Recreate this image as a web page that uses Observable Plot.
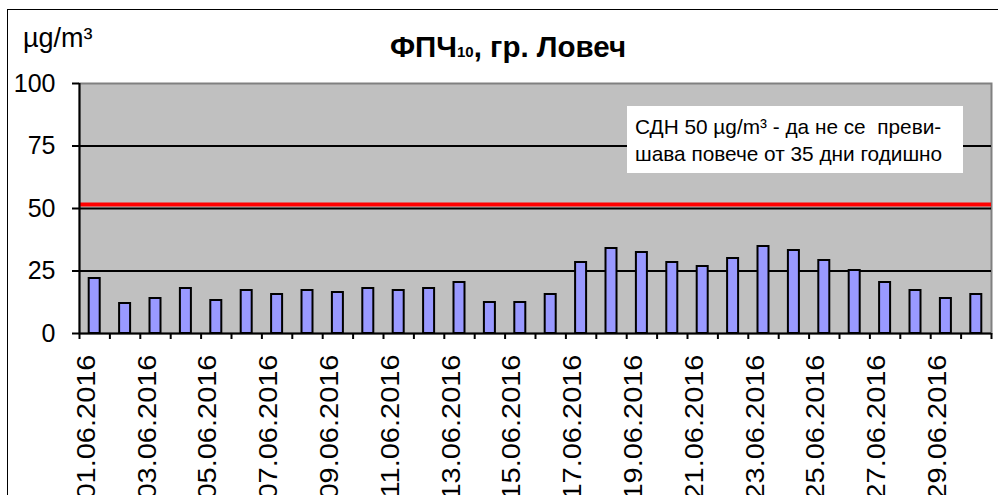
<!DOCTYPE html>
<html>
<head>
<meta charset="utf-8">
<script src="https://cdn.jsdelivr.net/npm/d3@7"></script>
<script src="https://cdn.jsdelivr.net/npm/@observablehq/plot@0.6"></script>
<style>
  html, body { margin: 0; padding: 0; background: #fff; overflow: hidden; }
  #wrap { position: relative; width: 998px; height: 495px; overflow: hidden; font-family: "Liberation Sans", Arial, sans-serif; }
  #frame { position: absolute; left: 7px; top: 9px; width: 1100px; height: 600px; border-left: 1px solid #000; border-top: 1px solid #000; }
  #unit { position: absolute; left: 23px; top: 23px; font-size: 27px; line-height: 30px; }
  #title { position: absolute; left: 0; width: 1016px; top: 30px; text-align: center; font-size: 29.5px; font-weight: bold; line-height: 34px; }
  #title sub { font-size: 15px; vertical-align: baseline; }
  #note { position: absolute; left: 627px; top: 106px; width: 336px; height: 67px; background: #fff; font-size: 20.8px; line-height: 27px; padding: 7px 0 0 8px; box-sizing: border-box; white-space: pre; }
  svg { position: absolute; left: 0; top: 0; }
</style>
</head>
<body>
<div id="wrap">
  <div id="frame"></div>
  <div id="chart"></div>
  <div id="unit">µg/m³</div>
  <div id="title">ФПЧ<sub>10</sub>, гр. Ловеч</div>
  <div id="note">СДН 50 µg/m³ - да не се  преви-
шава повече от 35 дни годишно</div>
</div>
<script>
// Dates (June 2016) and daily PM10 values, µg/m³
const dates = [
  "01.06.2016","02.06.2016","03.06.2016","04.06.2016","05.06.2016","06.06.2016",
  "07.06.2016","08.06.2016","09.06.2016","10.06.2016","11.06.2016","12.06.2016",
  "13.06.2016","14.06.2016","15.06.2016","16.06.2016","17.06.2016","18.06.2016",
  "19.06.2016","20.06.2016","21.06.2016","22.06.2016","23.06.2016","24.06.2016",
  "25.06.2016","26.06.2016","27.06.2016","28.06.2016","29.06.2016","30.06.2016"
];
const values = [
  22.0, 12.0, 14.0, 18.0, 13.2, 17.2,
  15.6, 17.2, 16.4, 18.0, 17.2, 18.0,
  20.4, 12.4, 12.4, 15.6, 28.4, 34.0,
  32.4, 28.4, 26.8, 30.0, 34.8, 33.2,
  29.2, 25.2, 20.4, 17.2, 14.0, 15.6
];
const yTicks = [0, 25, 50, 75, 100];
const gridLines = [25, 50, 75];
const limit = [50];

const data = dates.map((d, i) => ({date: d, day: i + 1, value: values[i]}));
const boundaries = dates.map((d, i) => i + 0.5).concat([dates.length + 0.5]);
const labelled = data.filter(d => d.day % 2 === 1);

const chart = Plot.plot({
  width: 998,
  height: 495,
  marginLeft: 79,
  marginRight: 7,
  marginTop: 83,
  marginBottom: 162,
  style: {fontFamily: "'Liberation Sans', Arial, sans-serif", fontSize: "25px", color: "#000", background: "transparent"},
  x: {type: "linear", domain: [0.5, dates.length + 0.5]},
  y: {domain: [0, 100]},
  marks: [
    Plot.frame({fill: "#c0c0c0", stroke: "#808080", strokeWidth: 2}),
    Plot.ruleY(gridLines, {stroke: "#000", strokeWidth: 2}),
    Plot.ruleY(limit, {stroke: "#ff0000", strokeWidth: 4, dy: -4}),
    Plot.rectY(data, {
      x1: d => d.day - 0.5, x2: d => d.day + 0.5, y: "value",
      insetLeft: 9.7, insetRight: 9.7,
      fill: "#9999ff", stroke: "#000", strokeWidth: 2
    }),
    Plot.ruleY([0], {stroke: "#000", strokeWidth: 2}),
    Plot.ruleX([0.5], {stroke: "#000", strokeWidth: 2}),
    Plot.axisY({ticks: yTicks, tickSize: 7, tickPadding: 17, strokeWidth: 2, fontSize: 25, label: null}),
    Plot.axisX({ticks: boundaries, tickSize: 6, strokeWidth: 2, tickFormat: () => "", label: null}),
    Plot.text(labelled, {
      x: "day", text: "date", frameAnchor: "bottom", dy: 21,
      rotate: -90, textAnchor: "end", fontSize: 25, fill: "#000",
      className: "xlab"
    })
  ]
});
// stretch rotated date labels along their reading direction, as in the reference
d3.select(chart).selectAll(".xlab text").attr("transform", function () {
  return (this.getAttribute("transform") || "") + " scale(1.16,1)";
});
document.getElementById("chart").appendChild(chart);
</script>
</body>
</html>
